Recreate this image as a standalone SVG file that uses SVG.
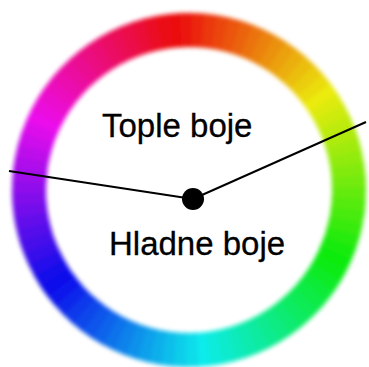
<svg xmlns="http://www.w3.org/2000/svg" width="369" height="367" viewBox="0 0 369 367">
<style>
.s{fill:none;stroke-width:34;stroke-dasharray:4.8 355.2}
.t{font-family:"Liberation Sans",Arial,sans-serif;font-size:33px;fill:#000;stroke:#000;stroke-width:0.3}
.c{stroke:#000;stroke-width:2;fill:none}
</style>
<defs>
<filter id="b" x="-10%" y="-10%" width="120%" height="120%"><feGaussianBlur stdDeviation="2.2"/></filter>
</defs>
<rect width="369" height="367" fill="#fff"/>
<g id="wheel" transform="translate(189,190) rotate(-97)" filter="url(#b)">
<circle class="s" r="160" pathLength="360" transform="rotate(0)" stroke="hsl(0,92%,48%)"/>
<circle class="s" r="160" pathLength="360" transform="rotate(4)" stroke="hsl(4,92%,48%)"/>
<circle class="s" r="160" pathLength="360" transform="rotate(8)" stroke="hsl(8,92%,48%)"/>
<circle class="s" r="160" pathLength="360" transform="rotate(12)" stroke="hsl(12,92%,48%)"/>
<circle class="s" r="160" pathLength="360" transform="rotate(16)" stroke="hsl(16,92%,48%)"/>
<circle class="s" r="160" pathLength="360" transform="rotate(20)" stroke="hsl(20,92%,48%)"/>
<circle class="s" r="160" pathLength="360" transform="rotate(24)" stroke="hsl(24,92%,48%)"/>
<circle class="s" r="160" pathLength="360" transform="rotate(28)" stroke="hsl(28,92%,48%)"/>
<circle class="s" r="160" pathLength="360" transform="rotate(32)" stroke="hsl(32,92%,48%)"/>
<circle class="s" r="160" pathLength="360" transform="rotate(36)" stroke="hsl(36,92%,48%)"/>
<circle class="s" r="160" pathLength="360" transform="rotate(40)" stroke="hsl(40,92%,48%)"/>
<circle class="s" r="160" pathLength="360" transform="rotate(44)" stroke="hsl(44,92%,48%)"/>
<circle class="s" r="160" pathLength="360" transform="rotate(48)" stroke="hsl(48,92%,48%)"/>
<circle class="s" r="160" pathLength="360" transform="rotate(52)" stroke="hsl(52,92%,48%)"/>
<circle class="s" r="160" pathLength="360" transform="rotate(56)" stroke="hsl(56,92%,48%)"/>
<circle class="s" r="160" pathLength="360" transform="rotate(60)" stroke="hsl(60,92%,48%)"/>
<circle class="s" r="160" pathLength="360" transform="rotate(64)" stroke="hsl(64,92%,48%)"/>
<circle class="s" r="160" pathLength="360" transform="rotate(68)" stroke="hsl(68,92%,48%)"/>
<circle class="s" r="160" pathLength="360" transform="rotate(72)" stroke="hsl(72,92%,48%)"/>
<circle class="s" r="160" pathLength="360" transform="rotate(76)" stroke="hsl(76,92%,48%)"/>
<circle class="s" r="160" pathLength="360" transform="rotate(80)" stroke="hsl(80,92%,48%)"/>
<circle class="s" r="160" pathLength="360" transform="rotate(84)" stroke="hsl(84,92%,48%)"/>
<circle class="s" r="160" pathLength="360" transform="rotate(88)" stroke="hsl(88,92%,48%)"/>
<circle class="s" r="160" pathLength="360" transform="rotate(92)" stroke="hsl(92,92%,48%)"/>
<circle class="s" r="160" pathLength="360" transform="rotate(96)" stroke="hsl(96,92%,48%)"/>
<circle class="s" r="160" pathLength="360" transform="rotate(100)" stroke="hsl(100,92%,48%)"/>
<circle class="s" r="160" pathLength="360" transform="rotate(104)" stroke="hsl(104,92%,48%)"/>
<circle class="s" r="160" pathLength="360" transform="rotate(108)" stroke="hsl(108,92%,48%)"/>
<circle class="s" r="160" pathLength="360" transform="rotate(112)" stroke="hsl(112,92%,48%)"/>
<circle class="s" r="160" pathLength="360" transform="rotate(116)" stroke="hsl(116,92%,48%)"/>
<circle class="s" r="160" pathLength="360" transform="rotate(120)" stroke="hsl(120,92%,48%)"/>
<circle class="s" r="160" pathLength="360" transform="rotate(124)" stroke="hsl(124,92%,48%)"/>
<circle class="s" r="160" pathLength="360" transform="rotate(128)" stroke="hsl(128,92%,48%)"/>
<circle class="s" r="160" pathLength="360" transform="rotate(132)" stroke="hsl(132,92%,48%)"/>
<circle class="s" r="160" pathLength="360" transform="rotate(136)" stroke="hsl(136,92%,48%)"/>
<circle class="s" r="160" pathLength="360" transform="rotate(140)" stroke="hsl(140,92%,48%)"/>
<circle class="s" r="160" pathLength="360" transform="rotate(144)" stroke="hsl(144,92%,48%)"/>
<circle class="s" r="160" pathLength="360" transform="rotate(148)" stroke="hsl(148,92%,48%)"/>
<circle class="s" r="160" pathLength="360" transform="rotate(152)" stroke="hsl(152,92%,48%)"/>
<circle class="s" r="160" pathLength="360" transform="rotate(156)" stroke="hsl(156,92%,48%)"/>
<circle class="s" r="160" pathLength="360" transform="rotate(160)" stroke="hsl(160,92%,48%)"/>
<circle class="s" r="160" pathLength="360" transform="rotate(164)" stroke="hsl(164,92%,48%)"/>
<circle class="s" r="160" pathLength="360" transform="rotate(168)" stroke="hsl(168,92%,48%)"/>
<circle class="s" r="160" pathLength="360" transform="rotate(172)" stroke="hsl(172,92%,48%)"/>
<circle class="s" r="160" pathLength="360" transform="rotate(176)" stroke="hsl(176,92%,48%)"/>
<circle class="s" r="160" pathLength="360" transform="rotate(180)" stroke="hsl(180,92%,48%)"/>
<circle class="s" r="160" pathLength="360" transform="rotate(184)" stroke="hsl(184,92%,48%)"/>
<circle class="s" r="160" pathLength="360" transform="rotate(188)" stroke="hsl(188,92%,48%)"/>
<circle class="s" r="160" pathLength="360" transform="rotate(192)" stroke="hsl(192,92%,48%)"/>
<circle class="s" r="160" pathLength="360" transform="rotate(196)" stroke="hsl(196,92%,48%)"/>
<circle class="s" r="160" pathLength="360" transform="rotate(200)" stroke="hsl(200,92%,48%)"/>
<circle class="s" r="160" pathLength="360" transform="rotate(204)" stroke="hsl(204,92%,48%)"/>
<circle class="s" r="160" pathLength="360" transform="rotate(208)" stroke="hsl(208,92%,48%)"/>
<circle class="s" r="160" pathLength="360" transform="rotate(212)" stroke="hsl(212,92%,48%)"/>
<circle class="s" r="160" pathLength="360" transform="rotate(216)" stroke="hsl(216,92%,48%)"/>
<circle class="s" r="160" pathLength="360" transform="rotate(220)" stroke="hsl(220,92%,48%)"/>
<circle class="s" r="160" pathLength="360" transform="rotate(224)" stroke="hsl(224,92%,48%)"/>
<circle class="s" r="160" pathLength="360" transform="rotate(228)" stroke="hsl(228,92%,48%)"/>
<circle class="s" r="160" pathLength="360" transform="rotate(232)" stroke="hsl(232,92%,48%)"/>
<circle class="s" r="160" pathLength="360" transform="rotate(236)" stroke="hsl(236,92%,48%)"/>
<circle class="s" r="160" pathLength="360" transform="rotate(240)" stroke="hsl(240,92%,48%)"/>
<circle class="s" r="160" pathLength="360" transform="rotate(244)" stroke="hsl(244,92%,48%)"/>
<circle class="s" r="160" pathLength="360" transform="rotate(248)" stroke="hsl(248,92%,48%)"/>
<circle class="s" r="160" pathLength="360" transform="rotate(252)" stroke="hsl(252,92%,48%)"/>
<circle class="s" r="160" pathLength="360" transform="rotate(256)" stroke="hsl(256,92%,48%)"/>
<circle class="s" r="160" pathLength="360" transform="rotate(260)" stroke="hsl(260,92%,48%)"/>
<circle class="s" r="160" pathLength="360" transform="rotate(264)" stroke="hsl(264,92%,48%)"/>
<circle class="s" r="160" pathLength="360" transform="rotate(268)" stroke="hsl(268,92%,48%)"/>
<circle class="s" r="160" pathLength="360" transform="rotate(272)" stroke="hsl(272,92%,48%)"/>
<circle class="s" r="160" pathLength="360" transform="rotate(276)" stroke="hsl(276,92%,48%)"/>
<circle class="s" r="160" pathLength="360" transform="rotate(280)" stroke="hsl(280,92%,48%)"/>
<circle class="s" r="160" pathLength="360" transform="rotate(284)" stroke="hsl(284,92%,48%)"/>
<circle class="s" r="160" pathLength="360" transform="rotate(288)" stroke="hsl(288,92%,48%)"/>
<circle class="s" r="160" pathLength="360" transform="rotate(292)" stroke="hsl(292,92%,48%)"/>
<circle class="s" r="160" pathLength="360" transform="rotate(296)" stroke="hsl(296,92%,48%)"/>
<circle class="s" r="160" pathLength="360" transform="rotate(300)" stroke="hsl(300,92%,48%)"/>
<circle class="s" r="160" pathLength="360" transform="rotate(304)" stroke="hsl(304,92%,48%)"/>
<circle class="s" r="160" pathLength="360" transform="rotate(308)" stroke="hsl(308,92%,48%)"/>
<circle class="s" r="160" pathLength="360" transform="rotate(312)" stroke="hsl(312,92%,48%)"/>
<circle class="s" r="160" pathLength="360" transform="rotate(316)" stroke="hsl(316,92%,48%)"/>
<circle class="s" r="160" pathLength="360" transform="rotate(320)" stroke="hsl(320,92%,48%)"/>
<circle class="s" r="160" pathLength="360" transform="rotate(324)" stroke="hsl(324,92%,48%)"/>
<circle class="s" r="160" pathLength="360" transform="rotate(328)" stroke="hsl(328,92%,48%)"/>
<circle class="s" r="160" pathLength="360" transform="rotate(332)" stroke="hsl(332,92%,48%)"/>
<circle class="s" r="160" pathLength="360" transform="rotate(336)" stroke="hsl(336,92%,48%)"/>
<circle class="s" r="160" pathLength="360" transform="rotate(340)" stroke="hsl(340,92%,48%)"/>
<circle class="s" r="160" pathLength="360" transform="rotate(344)" stroke="hsl(344,92%,48%)"/>
<circle class="s" r="160" pathLength="360" transform="rotate(348)" stroke="hsl(348,92%,48%)"/>
<circle class="s" r="160" pathLength="360" transform="rotate(352)" stroke="hsl(352,92%,48%)"/>
<circle class="s" r="160" pathLength="360" transform="rotate(356)" stroke="hsl(356,92%,48%)"/>
</g>
<g id="connectors">
<line class="c" x1="9" y1="171" x2="193" y2="199"/>
<line class="c" x1="193" y1="199" x2="366" y2="122"/>
</g>
<g id="center"><circle cx="193" cy="199" r="11" fill="#000"/></g>
<g id="warm"><text class="t" x="102" y="137">Tople boje</text></g>
<g id="cool"><text class="t" x="109" y="255">Hladne boje</text></g>
</svg>
